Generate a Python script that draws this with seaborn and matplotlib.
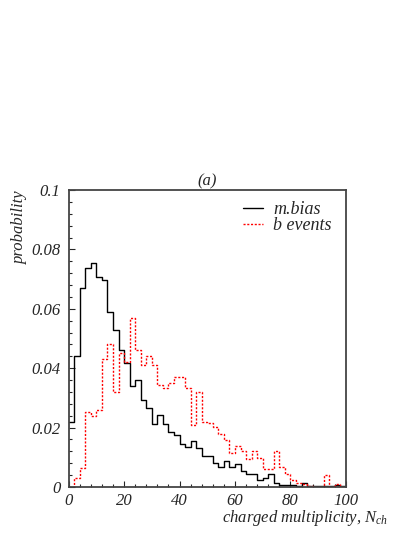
import numpy as np
import pandas as pd
import matplotlib
matplotlib.use("Agg")
import matplotlib.pyplot as plt
import seaborn as sns
from matplotlib.ticker import MultipleLocator

# bin centres of the multiplicity histograms (width 2)
bin_centres = np.arange(1, 100, 2)

# probability per bin
mbias = [0.0220, 0.0440, 0.0670, 0.0736, 0.0755, 0.0708, 0.0697, 0.0590, 0.0529, 0.0461,
         0.0416, 0.0340, 0.0360, 0.0293, 0.0265, 0.0212, 0.0242, 0.0212, 0.0186, 0.0175,
         0.0145, 0.0134, 0.0156, 0.0130, 0.0104, 0.0104, 0.0080, 0.0068, 0.0088, 0.0068,
         0.0076, 0.0055, 0.0043, 0.0043, 0.0024, 0.0029, 0.0044, 0.0012, 0.0008, 0.0006,
         0.0007, 0.0004, 0.0012, 0.0005, 0.0003, 0.0003, 0.0002, 0.0004, 0.0007, 0.0002]

bevents = [0.0000, 0.0029, 0.0063, 0.0251, 0.0240, 0.0259, 0.0430, 0.0480, 0.0319, 0.0450,
           0.0420, 0.0570, 0.0461, 0.0411, 0.0441, 0.0411, 0.0343, 0.0332, 0.0349, 0.0369,
           0.0369, 0.0332, 0.0209, 0.0321, 0.0220, 0.0214, 0.0203, 0.0180, 0.0158, 0.0113,
           0.0139, 0.0121, 0.0093, 0.0121, 0.0099, 0.0061, 0.0061, 0.0121, 0.0068, 0.0043,
           0.0024, 0.0012, 0.0009, 0.0003, 0.0000, 0.0000, 0.0040, 0.0000, 0.0009, 0.0000]

labels = ["m.bias", "b events"]

df = pd.DataFrame({
    "nch": np.concatenate([bin_centres, bin_centres]),
    "prob": mbias + bevents,
    "sample": [labels[0]] * len(mbias) + [labels[1]] * len(bevents),
})

sns.set_style("ticks")
plt.rcParams["font.family"] = ["Liberation Serif", "DejaVu Serif"]
plt.rcParams["font.style"] = "italic"
plt.rcParams["mathtext.fontset"] = "custom"
plt.rcParams["mathtext.it"] = "Liberation Serif:italic"
plt.rcParams["mathtext.rm"] = "Liberation Serif:italic"

fig = plt.figure(figsize=(4.15, 5.37), dpi=100)
ax = fig.add_axes([0.1655, 0.0931, 0.668, 0.5531])

sns.histplot(data=df[df["sample"] == labels[0]], x="nch", weights="prob",
             binwidth=2, binrange=(0, 100),
             element="step", fill=False, color="black", linewidth=1.0, ax=ax)
sns.histplot(data=df[df["sample"] == labels[1]], x="nch", weights="prob",
             binwidth=2, binrange=(0, 100),
             element="step", fill=False, color="#ff0000", linewidth=1.0,
             linestyle=(0, (1.5, 1.2)), ax=ax)

ax.set_xlim(0, 100)
ax.set_ylim(0, 0.1)
ax.xaxis.set_major_locator(MultipleLocator(20))
ax.xaxis.set_minor_locator(MultipleLocator(4))
ax.yaxis.set_major_locator(MultipleLocator(0.02))
ax.yaxis.set_minor_locator(MultipleLocator(0.004))
ax.set_yticks([0, 0.02, 0.04, 0.06, 0.08, 0.1])
ax.set_yticklabels(["0", "0.02", "0.04", "0.06", "0.08", "0.1"])
ax.tick_params(which="major", direction="in", length=4, width=0.8, labelsize=12, pad=4)
ax.tick_params(axis="y", which="major", pad=6)
ax.tick_params(which="minor", direction="in", length=2.2, width=0.8)
for s in ax.spines.values():
    s.set_linewidth(1.3)
    s.set_color("#444444")

ax.set_xlabel("")
ax.set_ylabel("")
fig.text(0.935, 0.028, r"charged multiplicity, $N_{ch}$", ha="right", va="baseline", fontsize=12)
fig.text(0.048, 0.646, "probability", rotation=90, ha="center", va="top", fontsize=12)
ax.set_title("(a)", fontsize=12, pad=3)

ax.legend(ax.lines[:2], labels, loc="upper left", bbox_to_anchor=(0.59, 1.0), frameon=False,
          fontsize=13, handlelength=1.1, handletextpad=0.55, labelspacing=-0.05,
          borderaxespad=0.2)

fig.savefig("out.png", dpi=100)
